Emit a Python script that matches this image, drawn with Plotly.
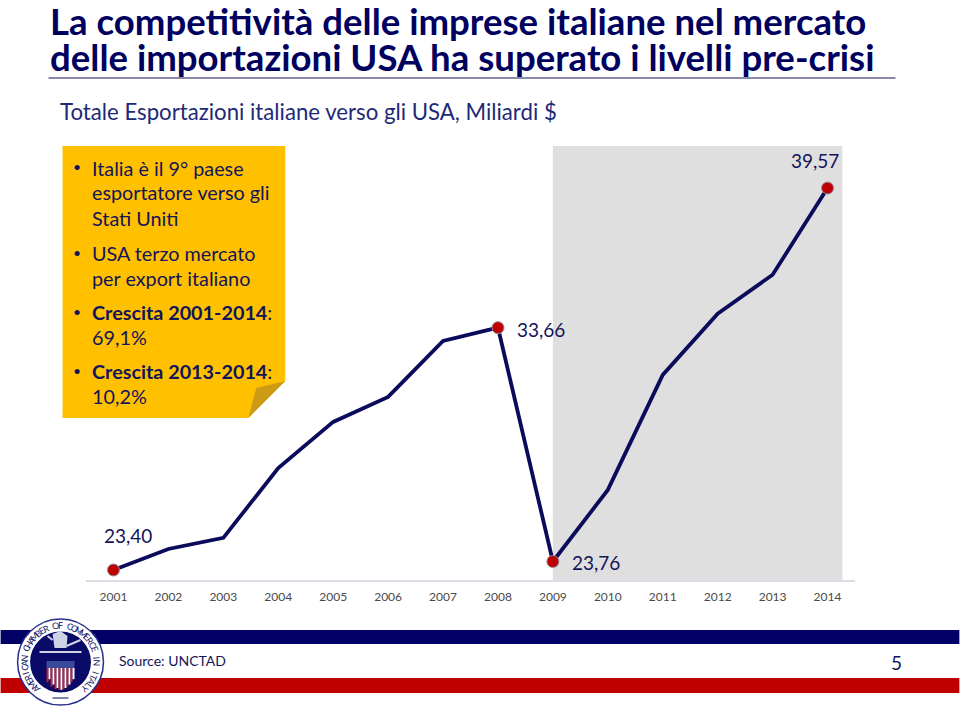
import math
import plotly.graph_objects as go

years = list(range(2001, 2015))
values = [23.40, 24.29, 24.76, 27.72, 29.67, 30.73, 33.10, 33.66, 23.76, 26.79, 31.66, 34.25, 35.90, 39.57]
marked_years = [2001, 2008, 2009, 2014]
marked_values = [23.40, 33.66, 23.76, 39.57]
marked_labels = ["23,40", "33,66", "23,76", "39,57"]
title_lines = ["La competitività delle imprese italiane nel mercato",
               "delle importazioni USA ha superato i livelli pre-crisi"]
subtitle = "Totale Esportazioni italiane verso gli USA, Miliardi $"
note_lines = [("Italia è il 9° paese", True), ("esportatore verso gli", False), ("Stati Uniti", False),
              ("USA terzo mercato", True), ("per export italiano", False),
              ("<b>Crescita 2001-2014</b>:", True), ("69,1%", False),
              ("<b>Crescita 2013-2014</b>:", True), ("10,2%", False)]
note_y = [167.5, 192.5, 217.5, 252.5, 277.5, 311.5, 336.5, 370.5, 395.5]

W, H = 960, 707
L, R, T, B = 85.5, 855.5, 146, 580
NAVY = "#0b0b5c"
TXT = "#14145a"
FONT = "Lato"

def px(x):
    return (x - L) / (R - L)
def py(y):
    return (B - y) / (B - T)

fig = go.Figure()
shapes = []
ann = []

def rect(x0, y0, x1, y1, fill, layer="above"):
    shapes.append(dict(type="rect", xref="paper", yref="paper", x0=px(x0), x1=px(x1), y0=py(y1), y1=py(y0),
                       fillcolor=fill, line=dict(width=0), layer=layer))

def poly(points, fill, layer="above"):
    p = "M " + " L ".join("{:.5f} {:.5f}".format(px(a), py(b)) for a, b in points) + " Z"
    shapes.append(dict(type="path", xref="paper", yref="paper", path=p, fillcolor=fill, line=dict(width=0), layer=layer))

def seg(x0, y0, x1, y1, color, width):
    shapes.append(dict(type="line", xref="paper", yref="paper", x0=px(x0), x1=px(x1), y0=py(y0), y1=py(y1),
                       line=dict(color=color, width=width)))

def text(x, y, s, size, color=TXT, anchor="left", angle=0, family=FONT):
    ann.append(dict(xref="paper", yref="paper", x=px(x), y=py(y), text=s, showarrow=False, xanchor=anchor,
                    yanchor="middle", textangle=angle, font=dict(family=family, size=size, color=color),
                    borderpad=0, borderwidth=0))

# shaded period behind the line
shapes.append(dict(type="rect", xref="x", yref="y domain", x0=2009, x1=2014.27, y0=0, y1=1,
                   fillcolor="#dfdfdf", line=dict(width=0), layer="below"))

fig.add_trace(go.Scatter(x=years, y=values, mode="lines", line=dict(color=NAVY, width=3.8),
                         hoverinfo="skip", showlegend=False))
fig.add_trace(go.Scatter(x=marked_years, y=marked_values, mode="markers",
                         marker=dict(color="#c00000", size=12, line=dict(color="#8e8e9c", width=1)),
                         hoverinfo="skip", showlegend=False))

# value labels
for yr, v, lab, dx, dy in zip(marked_years, marked_values, marked_labels,
                              [15, 43, 43, -13], [-35, 2, 1, -28]):
    ann.append(dict(xref="x", yref="y", x=yr, y=v, text=lab, showarrow=False, xshift=dx, yshift=-dy,
                    font=dict(family=FONT, size=19, color=TXT)))

# header
text(49, 21, "<b>" + title_lines[0] + "</b>", 36.6, color="#00005f")
text(49, 57, "<b>" + title_lines[1] + "</b>", 36.6, color="#00005f")
seg(48, 78, 896, 78, "#14145a", 1.2)
text(59, 111.5, subtitle, 22.2, color="#1e2a78")

# sticky note
poly([(62, 146), (285, 146), (285, 381), (248, 418), (62, 418)], "#ffc000")
poly([(285, 381), (248, 418), (256, 388)], "#cc9a14")
for (s, bullet), y in zip(note_lines, note_y):
    text(91.5, y, s, 19.8)
    if bullet:
        text(76, y - 0.5, "•", 14, anchor="center")

# footer
rect(0, 630, 960, 644, "#000066", "below")
rect(0, 678, 960, 693, "#c00000", "below")
text(119, 660.5, "Source: UNCTAD", 14, color="#14145a")
text(897, 662, "5", 19, anchor="center", color="#14145a")

# seal
cx, cy = 60, 662
def circle(r, fill, line=None, lw=0):
    shapes.append(dict(type="circle", xref="paper", yref="paper", x0=px(cx - r), x1=px(cx + r),
                       y0=py(cy + r), y1=py(cy - r), fillcolor=fill, line=dict(color=line or fill, width=lw)))
circle(43, "#ffffff", "#26308a", 1.5)
circle(30.5, "#0a0a68")
seal_text = "AMERICAN CHAMBER OF COMMERCE IN ITALY"
start, end = -138, 138
for i, ch in enumerate(seal_text):
    a = start + (end - start) * i / (len(seal_text) - 1)
    r = 36.5
    text(cx + r * math.sin(math.radians(a)), cy - r * math.cos(math.radians(a)), ch, 9,
         color="#1a1a6a", anchor="center", angle=a)
# shield
rect(46, 661, 74, 668, "#3a4a9a")
for i in range(7):
    x0 = 46 + i * 4
    xm = x0 + 2 - 60
    rect(x0, 668, x0 + 2, 690 - abs(xm) ** 2 * 0.055, "#c8202c")
    rect(x0 + 2, 668, x0 + 4, 690 - (abs(xm) + 2) ** 2 * 0.055, "#ffffff")
# ribbon and figure
seg(39, 652, 81, 652, "#cfd3e6", 2)
poly([(52, 634), (60, 631), (67, 636), (66, 648), (54, 648)], "#cfd3e6")
seg(66, 646, 80, 640, "#cfd3e6", 2)
seg(52, 640, 47, 636, "#cfd3e6", 2)
seg(52, 698, 68, 698, "#555c88", 1.5)

fig.update_layout(
    width=W, height=H, autosize=False, paper_bgcolor="white", plot_bgcolor="white",
    margin=dict(l=L, r=W - R, t=T, b=H - B, autoexpand=False),
    xaxis=dict(range=[2000.5, 2014.5], tickmode="array", tickvals=years, ticktext=[str(y) for y in years],
               showgrid=False, zeroline=False, showline=True, linecolor="#dcdce6", linewidth=1.5,
               ticks="", tickfont=dict(family=FONT, size=12, color="#4a4a4a"), ticklabelstandoff=5),
    yaxis=dict(range=[22.977, 41.35], visible=False, showgrid=False, zeroline=False),
    shapes=shapes, annotations=ann, showlegend=False,
)
fig.write_html("out.html", config={"displayModeBar": False},
               post_script="document.body.style.margin='0';document.body.style.overflow='hidden';")
